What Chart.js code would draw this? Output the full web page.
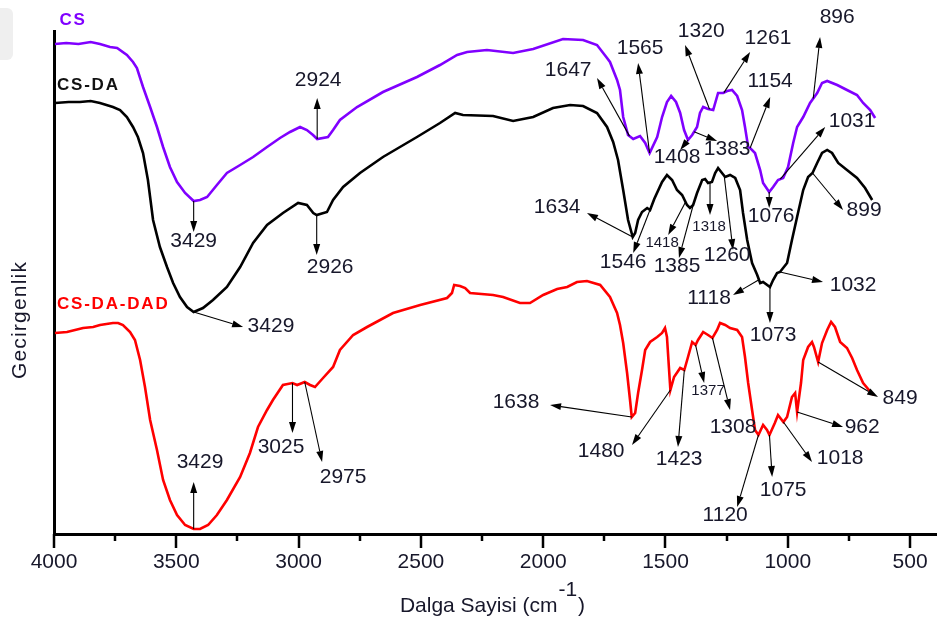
<!DOCTYPE html>
<html>
<head>
<meta charset="utf-8">
<script src="https://cdn.jsdelivr.net/npm/chart.js@4.4.1/dist/chart.umd.min.js"></script>
<style>
  html, body { margin: 0; padding: 0; background: #fff; }
  #wrap { position: relative; width: 937px; height: 622px; overflow: hidden; }
  #tab { position: absolute; left: 0; top: 8px; width: 13px; height: 52px; background: #efefef; border-radius: 0 6px 6px 0; }
  canvas { position: absolute; left: 0; top: 0; }
</style>
</head>
<body>
<div id="wrap"><div id="tab"></div><canvas id="ftir" width="937" height="622"></canvas></div>
<script>
// FTIR spectra: wavenumber (cm-1) and transmittance (arbitrary units)
const wnCS = [3996, 3950, 3900, 3850, 3812, 3771, 3742, 3702, 3677, 3661, 3636, 3607, 3579, 3554, 3526, 3497, 3464, 3429, 3403, 3374, 3334, 3293, 3239, 3186, 3129, 3076, 3035, 2994, 2966, 2941, 2924, 2880, 2859, 2831, 2761, 2655, 2516, 2422, 2352, 2311, 2230, 2123, 2041, 1919, 1837, 1780, 1739, 1727, 1698, 1686, 1673, 1653, 1632, 1604, 1583, 1565, 1534, 1514, 1494, 1477, 1457, 1440, 1424, 1408, 1391, 1371, 1359, 1346, 1326, 1305, 1285, 1264, 1248, 1228, 1207, 1187, 1175, 1162, 1154, 1134, 1113, 1101, 1076, 1060, 1040, 1019, 999, 978, 962, 937, 909, 880, 860, 839, 798, 758, 717, 692, 663, 643];
const tCS  = [490, 491, 490, 492, 490, 487, 486, 479, 472, 466, 447, 427, 407, 387, 367, 352, 341, 333, 334, 337, 349, 361, 369, 377, 387, 396, 402, 407, 404, 399, 395, 397, 404, 414, 427, 442, 457, 469, 479, 482, 484, 481, 485, 495, 494, 489, 476, 472, 454, 444, 417, 399, 395, 398, 391, 381, 397, 417, 432, 438, 432, 421, 404, 394, 399, 407, 421, 427, 425, 424, 441, 441, 443, 444, 438, 424, 407, 387, 386, 381, 364, 351, 342, 347, 354, 356, 367, 391, 407, 417, 431, 441, 451, 453, 449, 444, 439, 431, 424, 416];

const wnCSDA = [3996, 3940, 3894, 3850, 3812, 3759, 3730, 3702, 3677, 3657, 3636, 3616, 3595, 3567, 3538, 3513, 3485, 3456, 3429, 3391, 3350, 3293, 3239, 3186, 3129, 3064, 3002, 2966, 2940, 2926, 2884, 2859, 2818, 2749, 2655, 2516, 2422, 2360, 2328, 2205, 2123, 2041, 1960, 1890, 1837, 1780, 1739, 1714, 1694, 1673, 1653, 1634, 1624, 1612, 1596, 1575, 1563, 1546, 1514, 1494, 1473, 1453, 1432, 1412, 1400, 1387, 1371, 1350, 1338, 1326, 1310, 1297, 1285, 1269, 1256, 1236, 1215, 1195, 1183, 1166, 1146, 1125, 1113, 1101, 1073, 1060, 1044, 1032, 1003, 983, 962, 937, 917, 899, 880, 860, 839, 819, 794, 758, 717, 684, 655];
const tCSDA  = [431, 432, 432, 433, 431, 427, 424, 417, 407, 397, 381, 354, 314, 287, 267, 251, 237, 227, 222, 226, 234, 247, 267, 291, 309, 321, 331, 329, 321, 319, 322, 334, 347, 361, 377, 397, 411, 421, 419, 418, 413, 417, 426, 429, 428, 421, 407, 392, 374, 344, 314, 297, 301, 314, 322, 326, 324, 335, 352, 359, 354, 344, 339, 329, 326, 329, 341, 354, 355, 351, 352, 361, 366, 361, 357, 359, 356, 344, 321, 294, 271, 259, 251, 252, 247, 254, 261, 262, 271, 294, 317, 344, 357, 361, 371, 381, 384, 381, 371, 364, 356, 346, 334];

const wnCSDADAD = [3996, 3947, 3881, 3840, 3812, 3759, 3738, 3718, 3689, 3669, 3648, 3628, 3607, 3579, 3554, 3526, 3497, 3464, 3429, 3403, 3370, 3334, 3293, 3239, 3199, 3166, 3129, 3105, 3064, 3025, 3006, 2975, 2953, 2933, 2900, 2859, 2831, 2777, 2720, 2614, 2503, 2393, 2373, 2364, 2340, 2319, 2299, 2205, 2164, 2095, 2054, 2000, 1943, 1902, 1862, 1821, 1767, 1727, 1698, 1686, 1673, 1657, 1645, 1638, 1624, 1612, 1596, 1583, 1563, 1534, 1514, 1502, 1494, 1488, 1480, 1465, 1440, 1423, 1408, 1391, 1377, 1367, 1346, 1326, 1308, 1289, 1277, 1256, 1236, 1207, 1187, 1175, 1162, 1146, 1134, 1120, 1101, 1085, 1075, 1053, 1040, 1018, 1003, 983, 970, 962, 946, 937, 917, 901, 893, 876, 860, 839, 823, 807, 786, 758, 737, 717, 692, 651];
const tCSDADAD  = [201, 202, 206, 207, 209, 211, 211, 209, 202, 194, 174, 147, 114, 84, 54, 34, 19, 9, 5, 5, 9, 19, 34, 57, 81, 107, 124, 134, 149, 151, 149, 152, 149, 147, 156, 167, 184, 199, 207, 221, 229, 236, 241, 249, 248, 246, 241, 239, 237, 231, 231, 239, 245, 247, 252, 253, 249, 237, 221, 209, 191, 161, 134, 117, 121, 141, 164, 184, 192, 197, 201, 206, 197, 174, 144, 157, 166, 164, 177, 192, 189, 194, 202, 199, 196, 204, 211, 209, 206, 204, 197, 177, 151, 124, 104, 99, 109, 104, 99, 111, 119, 112, 117, 137, 141, 122, 151, 174, 187, 192, 187, 172, 191, 204, 212, 207, 192, 186, 176, 164, 151, 139];

const seriesNames = ['CS', 'CS-DA', 'CS-DA-DAD'];
const seriesColors = ['#8000ff', '#000000', '#ff0000'];

// axis tick labels
const xTickValues = [4000, 3500, 3000, 2500, 2000, 1500, 1000, 500];
const xMinorTickValues = [3750, 3250, 2750, 2250, 1750, 1250, 750];

// assigned band positions (cm-1) for each spectrum
const peaksCS = [3429, 2924, 1647, 1565, 1408, 1383, 1320, 1261, 1154, 1076, 1031, 896];
const peaksCSDA = [3429, 2926, 1634, 1546, 1418, 1385, 1318, 1260, 1118, 1073, 1032, 899];
const peaksCSDADAD = [3429, 3025, 2975, 1638, 1480, 1423, 1377, 1308, 1120, 1075, 1018, 962, 849];

// callout placement in data space: arrow head [wn, T] and label centre [wn, T]
const calloutPlacement = {
  'CS': {
    3429: { head: [3429, 302], label: [3429, 293] },
    2924: { head: [2924, 436], label: [2920, 454] },
    1647: { head: [1780, 456], label: [1898, 464] },
    1565: { head: [1612, 471], label: [1604, 486] },
    1408: { head: [1440, 384], label: [1453, 377] },
    1383: { head: [1289, 393], label: [1248, 385] },
    1320: { head: [1420, 489], label: [1354, 503] },
    1261: { head: [1154, 482], label: [1081, 496] },
    1154: { head: [1072, 437], label: [1072, 453] },
    1076: { head: [1076, 326], label: [1068, 318] },
    1031: { head: [847, 407], label: [737, 413] },
    896:  { head: [868, 497], label: [798, 517] }
  },
  'CS-DA': {
    3429: { head: [3227, 207], label: [3113, 208] },
    2926: { head: [2926, 279], label: [2871, 267] },
    1634: { head: [1821, 321], label: [1943, 327] },
    1546: { head: [1632, 281], label: [1673, 272] },
    1418: { head: [1489, 299], label: [1514, 291], small: true },
    1385: { head: [1445, 276], label: [1453, 268] },
    1318: { head: [1318, 319], label: [1322, 307], small: true },
    1260: { head: [1224, 284], label: [1248, 279] },
    1118: { head: [1224, 239], label: [1322, 236] },
    1073: { head: [1073, 211], label: [1060, 199] },
    1032: { head: [856, 252], label: [733, 249] },
    899:  { head: [774, 324], label: [688, 324] }
  },
  'CS-DA-DAD': {
    3429: { head: [3429, 52], label: [3403, 72] },
    3025: { head: [3025, 101], label: [3072, 87] },
    2975: { head: [2904, 72], label: [2818, 57] },
    1638: { head: [1972, 129], label: [2111, 132] },
    1480: { head: [1637, 89], label: [1763, 83] },
    1423: { head: [1449, 87], label: [1444, 75] },
    1377: { head: [1342, 151], label: [1326, 143], small: true },
    1308: { head: [1236, 124], label: [1224, 107] },
    1120: { head: [1207, 27], label: [1256, 19] },
    1075: { head: [1064, 57], label: [1019, 44] },
    1018: { head: [901, 72], label: [786, 76] },
    962:  { head: [774, 107], label: [696, 107] },
    849:  { from: 876, head: [631, 137], label: [541, 136] }
  }
};

// series name tags, left-aligned, in data space
const tagPlacement = { 'CS': [3978, 514], 'CS-DA': [3988, 449], 'CS-DA-DAD': [3988, 230] };

const FONT = '"Liberation Sans", Arial, Helvetica, sans-serif';
const INK = '#17172a';

const spectra = [
  { name: seriesNames[0], wn: wnCS, t: tCS, peaks: peaksCS },
  { name: seriesNames[1], wn: wnCSDA, t: tCSDA, peaks: peaksCSDA },
  { name: seriesNames[2], wn: wnCSDADAD, t: tCSDADAD, peaks: peaksCSDADAD }
];

function valueAt(xs, ys, x) {
  for (let i = 0; i < xs.length - 1; i++) {
    const a = xs[i], b = xs[i + 1];
    if ((x <= a && x >= b) || (x >= a && x <= b)) {
      const f = (x - a) / (b - a || 1);
      return ys[i] + f * (ys[i + 1] - ys[i]);
    }
  }
  return ys[ys.length - 1];
}

function drawArrow(ctx, x0, y0, x1, y1, hl, hw) {
  const ang = Math.atan2(y1 - y0, x1 - x0);
  const len = Math.hypot(x1 - x0, y1 - y0);
  const h = Math.min(hl, len);
  const bx = x1 - Math.cos(ang) * h, by = y1 - Math.sin(ang) * h;
  ctx.beginPath();
  ctx.moveTo(x0, y0);
  ctx.lineTo(bx, by);
  ctx.stroke();
  ctx.beginPath();
  ctx.moveTo(x1, y1);
  ctx.lineTo(bx + Math.sin(ang) * hw / 2, by - Math.cos(ang) * hw / 2);
  ctx.lineTo(bx - Math.sin(ang) * hw / 2, by + Math.cos(ang) * hw / 2);
  ctx.closePath();
  ctx.fill();
}

const decorations = {
  id: 'spectrumDecorations',
  afterDraw(chart) {
    const ctx = chart.ctx;
    const xs = chart.scales.x, ys = chart.scales.y;
    const area = chart.chartArea;
    ctx.save();

    // x-axis tick marks
    ctx.strokeStyle = '#000';
    ctx.lineWidth = 2.5;
    xTickValues.forEach(v => {
      const px = Math.round(xs.getPixelForValue(v));
      ctx.beginPath(); ctx.moveTo(px, area.bottom); ctx.lineTo(px, area.bottom + 14); ctx.stroke();
    });
    xMinorTickValues.forEach(v => {
      const px = Math.round(xs.getPixelForValue(v));
      ctx.beginPath(); ctx.moveTo(px, area.bottom); ctx.lineTo(px, area.bottom + 7); ctx.stroke();
    });

    // peak callouts
    ctx.strokeStyle = '#000';
    ctx.fillStyle = '#000';
    ctx.lineWidth = 1.1;
    spectra.forEach(s => {
      const place = calloutPlacement[s.name];
      s.peaks.forEach(p => {
        const c = place[p];
        if (!c) return;
        const fromWn = c.from || p;
        const x0 = xs.getPixelForValue(fromWn);
        const y0 = ys.getPixelForValue(valueAt(s.wn, s.t, fromWn));
        const x1 = xs.getPixelForValue(c.head[0]);
        const y1 = ys.getPixelForValue(c.head[1]);
        ctx.fillStyle = '#000';
        drawArrow(ctx, x0, y0, x1, y1, 11, 7);
        ctx.fillStyle = INK;
        ctx.font = (c.small ? '15px ' : '21px ') + FONT;
        ctx.textAlign = 'center';
        ctx.textBaseline = 'middle';
        ctx.fillText(String(p), xs.getPixelForValue(c.label[0]), ys.getPixelForValue(c.label[1]));
      });
    });

    // series name tags
    ctx.font = 'bold 17px ' + FONT;
    ctx.textAlign = 'left';
    ctx.textBaseline = 'middle';
    ctx.letterSpacing = '1.8px';
    seriesNames.forEach((n, i) => {
      const pos = tagPlacement[n];
      ctx.fillStyle = seriesColors[i] === '#000000' ? '#111' : seriesColors[i];
      ctx.fillText(n, xs.getPixelForValue(pos[0]), ys.getPixelForValue(pos[1]));
    });
    ctx.letterSpacing = '0px';

    // y-axis title
    ctx.fillStyle = INK;
    ctx.font = '21px ' + FONT;
    ctx.save();
    ctx.translate(20, 320);
    ctx.rotate(-Math.PI / 2);
    ctx.letterSpacing = '1.2px';
    ctx.textAlign = 'center';
    ctx.textBaseline = 'middle';
    ctx.fillText('Gecirgenlik', 0, 0);
    ctx.restore();

    // x-axis title with superscript unit
    ctx.font = '21px ' + FONT;
    ctx.textBaseline = 'alphabetic';
    ctx.textAlign = 'left';
    const main = 'Dalga Sayisi (cm', sup = '-1', close = ')';
    const wMain = ctx.measureText(main).width;
    const wSup = ctx.measureText(sup).width;
    const wClose = ctx.measureText(close).width;
    const total = wMain + wSup + wClose + 2;
    const startX = (area.left + area.right) / 2 - total / 2 - 3;
    ctx.fillText(main, startX, 612);
    ctx.fillText(sup, startX + wMain + 1, 596);
    ctx.fillText(close, startX + wMain + wSup + 2, 612);

    ctx.restore();
  }
};

const datasets = spectra.map((s, i) => ({
  label: s.name,
  data: s.wn.map((w, k) => ({ x: w, y: s.t[k] })),
  borderColor: seriesColors[i],
  borderWidth: 2.6,
  pointRadius: 0,
  tension: 0,
  fill: false
}));

new Chart(document.getElementById('ftir'), {
  type: 'line',
  data: { datasets },
  options: {
    responsive: false,
    animation: false,
    parsing: true,
    layout: { padding: { top: 31, right: 0, bottom: 0, left: 0 } },
    plugins: { legend: { display: false }, tooltip: { enabled: false } },
    scales: {
      x: {
        type: 'linear',
        reverse: true,
        min: 390,
        max: 4000,
        position: 'bottom',
        grid: { display: false, drawTicks: true, tickLength: 14 },
        border: { display: true, color: '#000', width: 3 },
        ticks: {
          color: INK,
          padding: 2,
          maxRotation: 0,
          font: { family: FONT, size: 21 },
          callback: v => String(v)
        },
        afterBuildTicks: s => { s.ticks = xTickValues.map(v => ({ value: v })); },
        afterFit: s => { s.height = 88; }
      },
      y: {
        type: 'linear',
        min: 0,
        max: 503,
        grid: { display: false },
        border: { display: true, color: '#000', width: 3 },
        ticks: { display: false },
        afterFit: s => { s.width = 54; }
      }
    }
  },
  plugins: [decorations]
});
</script>
</body>
</html>
